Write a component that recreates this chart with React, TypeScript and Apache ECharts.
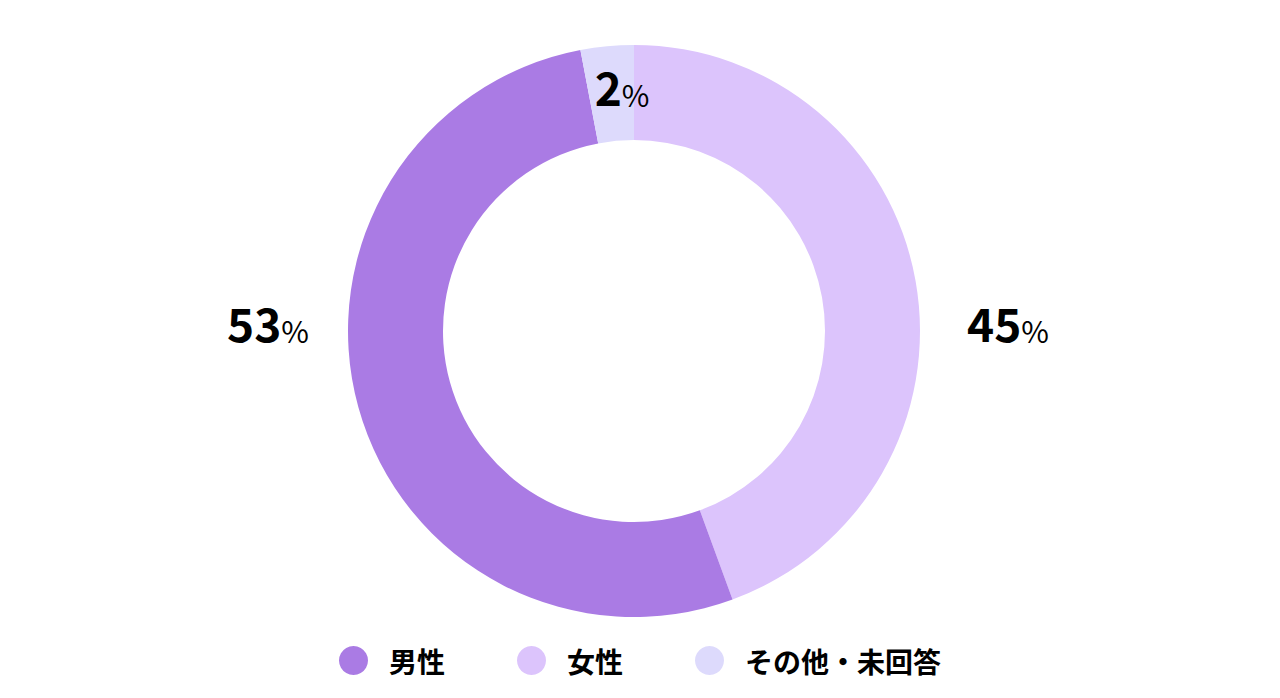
import React, { useEffect, useRef } from "react";
import * as echarts from "echarts";

const categories = ["女性", "男性", "その他・未回答"];
const shares = [44.4, 52.6, 3.0];
const labelValues = ["45", "53", "2"];
const legendOrder = ["男性", "女性", "その他・未回答"];
const colors = ["#DCC4FC", "#AA7BE4", "#DDDAFC"];

const CX = 634;
const CY = 331;
const R_IN = 191;
const R_OUT = 286;
const FONT = "'Noto Sans CJK JP', 'Noto Sans', sans-serif";

export default function App() {
  const ref = useRef<HTMLDivElement>(null);
  useEffect(() => {
    if (!ref.current) return;
    const chart = echarts.init(ref.current, undefined, { renderer: "svg" });
    chart.setOption({
      animation: false,
      backgroundColor: "#ffffff",
      legend: {
        data: legendOrder,
        bottom: 18,
        left: "center",
        icon: "circle",
        itemWidth: 29,
        itemHeight: 29,
        itemGap: 72,
        textStyle: {
          fontFamily: FONT,
          fontSize: 28,
          fontWeight: "bold",
          color: "#000000",
          padding: [0, 0, 0, 16],
        },
      },
      series: [
        {
          type: "pie",
          center: [CX, CY],
          radius: [R_IN, R_OUT],
          startAngle: 90,
          clockwise: true,
          silent: true,
          labelLine: { show: false },
          label: {
            show: true,
            position: "inside",
            formatter: (p: any) => `{n|${labelValues[p.dataIndex]}}{p|%}`,
            rich: {
              n: {
                fontFamily: FONT,
                fontSize: 46,
                lineHeight: 46,
                fontWeight: "bold",
                color: "#000000",
                verticalAlign: "bottom",
              },
              p: {
                fontFamily: FONT,
                fontSize: 30,
                lineHeight: 30,
                fontWeight: "normal",
                color: "#000000",
                verticalAlign: "bottom",
              },
            },
          },
          labelLayout: (params: any) => {
            const i = params.dataIndex;
            if (i === 0) {
              return { x: CX + R_OUT + 47, y: CY - 9, align: "left", verticalAlign: "middle" };
            }
            if (i === 1) {
              return { x: CX - R_OUT - 39, y: CY - 9, align: "right", verticalAlign: "middle" };
            }
            return { x: CX - 12, y: CY - (R_IN + R_OUT) / 2 - 7, align: "center", verticalAlign: "middle" };
          },
          data: categories.map((name, i) => ({
            name,
            value: shares[i],
            itemStyle: { color: colors[i] },
          })),
        },
      ],
    });
    return () => chart.dispose();
  }, []);
  return (
    <div
      ref={ref}
      style={{ position: "fixed", left: 0, top: 0, width: 1280, height: 698 }}
    />
  );
}
